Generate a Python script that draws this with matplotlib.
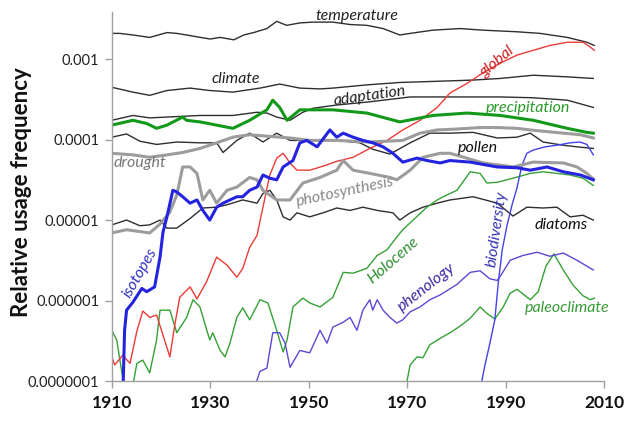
import numpy as np
import matplotlib.pyplot as plt
from matplotlib.ticker import FixedLocator, NullLocator

# values are log10 of relative usage frequency
temperature_years = [1910, 1911.6, 1914.3, 1917.7, 1921.2, 1923.2, 1925.2, 1928, 1930, 1932, 1934.8, 1936.8,
                     1938.8, 1941.5, 1943.5, 1945.5, 1948.2, 1950.8, 1954.9, 1958.4, 1961.8, 1965.1, 1968.5,
                     1970.6, 1975.2, 1980.7, 1985.4, 1992.3, 1997, 2002.5, 2006.5, 2008]
temperature = [-2.68, -2.68, -2.70, -2.73, -2.67, -2.68, -2.70, -2.73, -2.75, -2.73, -2.76, -2.70,
               -2.67, -2.62, -2.53, -2.58, -2.55, -2.54, -2.54, -2.57, -2.58, -2.62, -2.70,
               -2.68, -2.64, -2.62, -2.64, -2.66, -2.68, -2.73, -2.79, -2.83]

climate_years = [1910, 1914.3, 1917.7, 1921.2, 1925.9, 1929.9, 1934.6, 1940.1, 1944.1, 1948.2, 1952.3,
                 1954.9, 1961.8, 1968.5, 1978.7, 1983.4, 1988.9, 1995.6, 2002.5, 2007.8]
climate = [-3.35, -3.41, -3.45, -3.39, -3.36, -3.39, -3.41, -3.36, -3.31, -3.36, -3.37,
           -3.36, -3.32, -3.29, -3.27, -3.26, -3.24, -3.20, -3.22, -3.24]

adaptation_years = [1910, 1914.3, 1917.7, 1921.2, 1927.9, 1934.6, 1939.5, 1941.5, 1943.5, 1946.2, 1948.8,
                    1950.9, 1955.7, 1962.4, 1970.6, 1976.7, 1982.2, 1988.9, 1995.6, 2002.5, 2007.8]
adaptation = [-3.76, -3.70, -3.73, -3.72, -3.70, -3.70, -3.66, -3.67, -3.72, -3.76, -3.66,
              -3.61, -3.57, -3.53, -3.47, -3.47, -3.47, -3.47, -3.48, -3.51, -3.60]

precipitation_years = [1910, 1914.3, 1917.1, 1919.1, 1921.2, 1924.4, 1925.2, 1927.9, 1931.3, 1934.6, 1938,
                       1941.5, 1942.7, 1944.1, 1945.6, 1948.2, 1952.3, 1954.9, 1961.8, 1968.5, 1975.2,
                       1982.2, 1988.9, 1995.6, 2002.5, 2006.5, 2007.8]
precipitation = [-3.82, -3.76, -3.80, -3.86, -3.82, -3.72, -3.76, -3.78, -3.82, -3.86, -3.76,
                 -3.63, -3.51, -3.60, -3.76, -3.63, -3.63, -3.63, -3.67, -3.78, -3.70,
                 -3.67, -3.70, -3.76, -3.86, -3.91, -3.92]

pollen_years = [1910, 1913, 1915.7, 1919.1, 1923.2, 1927.9, 1931.3, 1932.6, 1935.4, 1938, 1940.7, 1943.5,
                1946.2, 1950.2, 1955.7, 1960.4, 1963, 1966.5, 1970.6, 1974.6, 1978.7, 1983.4, 1988.3,
                1992.3, 1995, 1997.6, 2001.7, 2004.5, 2007.8]
pollen = [-3.97, -3.93, -4.02, -4.06, -4.03, -4.04, -4.04, -4.16, -4.01, -3.92, -4.03, -3.92,
          -4.01, -4.01, -4.01, -4.04, -4.12, -4.18, -4.04, -3.92, -3.92, -3.91, -3.98,
          -3.97, -3.92, -4.03, -4.07, -4.09, -4.11]

drought_years = [1910, 1914.3, 1917.7, 1921.2, 1924.4, 1927.9, 1931.3, 1934.6, 1938, 1942.1, 1946.2,
                 1950.2, 1955.7, 1962.4, 1969.1, 1972.6, 1976.1, 1979.7, 1984.8, 1988.3, 1992.3, 1995,
                 2001.7, 2005.2, 2007.8]
drought = [-4.17, -4.19, -4.22, -4.19, -4.16, -4.11, -4.04, -3.97, -3.94, -3.96, -3.98,
           -4.01, -4.01, -4.03, -4.01, -3.92, -3.88, -3.87, -3.85, -3.85, -3.86, -3.88,
           -3.92, -3.94, -3.98]

photosynthesis_years = [1910, 1913, 1917.7, 1919.8, 1921.8, 1923.2, 1924.4, 1925.9, 1927.3, 1928.5,
                        1929.9, 1931.3, 1933.4, 1935.4, 1938, 1939.5, 1940.7, 1943.5, 1946.2, 1948.8,
                        1952.3, 1955.7, 1957, 1959, 1962.4, 1966.5, 1967.9, 1970.6, 1973.2, 1976.7,
                        1978.7, 1985.4, 1991.5, 1995.6, 2001.7, 2004.5, 2006.5, 2007.8]
photosynthesis = [-5.16, -5.12, -5.16, -5.05, -4.90, -4.69, -4.34, -4.34, -4.42, -4.75,
                  -4.63, -4.79, -4.63, -4.59, -4.47, -4.50, -4.63, -4.75, -4.75, -4.54,
                  -4.47, -4.38, -4.26, -4.38, -4.42, -4.47, -4.50, -4.38, -4.22, -4.17,
                  -4.17, -4.29, -4.34, -4.28, -4.29, -4.34, -4.42, -4.49]

diatoms_years = [1910, 1913, 1915.7, 1917.7, 1919.8, 1921.2, 1923.2, 1925.9, 1928.5, 1931.3,
                 1933.4, 1936.6, 1939.5, 1940.7, 1942.1, 1943.5, 1944.8, 1946.2, 1947.6, 1950.2,
                 1952.9, 1955.7, 1958.4, 1961, 1963.9, 1967.1, 1968.5, 1970.6, 1973.2, 1976.7,
                 1978.7, 1983.4, 1988.3, 1991.5, 1994.3, 1997.6, 2000.4, 2003.1, 2005.7, 2007.8]
diatoms = [-5.06, -5.00, -5.07, -5.06, -5.00, -5.10, -5.10, -4.98, -4.85, -4.84,
           -4.81, -4.75, -4.79, -4.67, -4.63, -4.75, -4.96, -5.00, -4.91, -4.96,
           -4.91, -4.85, -4.88, -4.84, -4.88, -4.91, -5.00, -4.91, -4.84, -4.78,
           -4.75, -4.71, -4.79, -4.95, -4.84, -4.85, -4.84, -4.96, -4.94, -5.00]

isotopes_years = [1912.2, 1912.6, 1913, 1914.3, 1916.1, 1917.1, 1918.7, 1919.8, 1920.4, 1921.2,
                  1922.4, 1923.2, 1924.4, 1925.9, 1927.3, 1928.5, 1929.9, 1931.3, 1932.6, 1934,
                  1935.4, 1936.6, 1938, 1939.5, 1940.7, 1942.1, 1943.5, 1944.8, 1946.8, 1948.2,
                  1949.6, 1951.7, 1954.3, 1955.7, 1957, 1959, 1961, 1963, 1965.1, 1967.1,
                  1969.1, 1972, 1974, 1976.7, 1978.7, 1982.8, 1988.3, 1992.3, 1995, 1998.4,
                  2001.7, 2005.2, 2007.8]
isotopes = [-7.30, -6.37, -6.12, -6.02, -5.85, -5.89, -5.83, -5.46, -5.15, -4.96,
            -4.63, -4.65, -4.71, -4.79, -4.75, -4.88, -5.00, -4.84, -4.79, -4.75,
            -4.71, -4.71, -4.63, -4.59, -4.44, -4.48, -4.50, -4.34, -4.26, -4.04,
            -4.01, -4.09, -3.88, -3.97, -3.92, -3.97, -4.01, -4.04, -4.09, -4.17,
            -4.28, -4.23, -4.26, -4.29, -4.26, -4.28, -4.34, -4.35, -4.38, -4.34,
            -4.40, -4.44, -4.50]

global_years = [1910, 1910.6, 1912.2, 1913.7, 1915.1, 1916.3, 1917.7, 1919.1, 1920.4, 1921.8,
                1922.8, 1923.8, 1925.9, 1927.3, 1929.3, 1931.3, 1933.4, 1935.4, 1936.6, 1938,
                1939.5, 1940.7, 1942.1, 1943.5, 1944.8, 1946.2, 1947.6, 1950.2, 1952.9, 1955.7,
                1959, 1962.4, 1965.9, 1969.1, 1972.6, 1976.1, 1978.7, 1982.2, 1985.4, 1988.9,
                1992.3, 1995.6, 1999, 2002.5, 2005.7, 2007.2, 2008]
global_ = [-6.70, -6.80, -6.68, -6.78, -6.38, -6.13, -6.21, -6.18, -6.43, -6.70,
           -6.30, -5.96, -5.83, -5.98, -5.76, -5.46, -5.56, -5.71, -5.60, -5.34,
           -5.19, -4.84, -4.44, -4.23, -4.17, -4.29, -4.38, -4.38, -4.33, -4.27,
           -4.22, -4.11, -4.01, -3.88, -3.76, -3.60, -3.42, -3.30, -3.17, -3.05,
           -2.95, -2.89, -2.83, -2.79, -2.79, -2.85, -2.89]

holocene_years = [1910, 1911, 1912.2, 1913, 1914.3, 1915.1, 1916.3, 1917.7, 1919.1, 1919.8,
                  1921.8, 1923.2, 1925.2, 1926.5, 1927.9, 1929.3, 1929.9, 1930.5, 1932, 1933,
                  1934, 1935.4, 1936.6, 1938, 1940.1, 1941.7, 1943.5, 1944.8, 1945.6, 1946.8,
                  1948.8, 1950.2, 1952.3, 1954.9, 1957, 1959, 1961.8, 1963.9, 1965.9, 1967.9,
                  1969.1, 1971.2, 1974, 1976.1, 1977.3, 1980.1, 1982.8, 1984.8, 1986.2, 1988.3,
                  1991.5, 1995, 1997.6, 2000.4, 2003.1, 2005.7, 2007.8]
holocene = [-6.37, -6.49, -6.95, -7.17, -7.05, -6.78, -6.74, -6.90, -6.49, -6.12,
            -6.12, -6.40, -6.21, -5.99, -6.08, -6.37, -6.49, -6.40, -6.62, -6.70,
            -6.53, -6.21, -6.09, -6.24, -5.99, -6.03, -6.37, -6.64, -6.49, -6.08,
            -5.97, -6.03, -6.08, -5.96, -5.65, -5.66, -5.60, -5.44, -5.37, -5.21,
            -5.12, -5.00, -4.84, -4.75, -4.71, -4.63, -4.40, -4.42, -4.54, -4.53,
            -4.48, -4.42, -4.40, -4.42, -4.44, -4.48, -4.57]

phenology_years = [1939.1, 1939.5, 1940.1, 1941.5, 1942.7, 1944.1, 1945.2, 1946.2, 1948.2, 1950.2,
                   1952.3, 1953.7, 1954.9, 1957, 1958.4, 1959.8, 1961, 1962.4, 1963, 1963.9,
                   1965.1, 1966.5, 1967.9, 1969.1, 1970.6, 1972.6, 1974.6, 1976.7, 1980.1, 1982.8,
                   1984.8, 1986.8, 1988.3, 1989.3, 1990.9, 1993.5, 1996.4, 1999, 2001.7, 2004.5,
                   2007.8]
phenology = [-7.05, -6.99, -6.88, -6.84, -6.40, -6.40, -6.53, -6.83, -6.62, -6.65,
             -6.37, -6.53, -6.33, -6.27, -6.21, -6.37, -6.12, -5.99, -6.12, -5.99,
             -6.12, -6.21, -6.28, -6.24, -6.14, -6.08, -5.99, -5.93, -5.80, -5.65,
             -5.63, -5.73, -5.75, -5.66, -5.50, -5.44, -5.40, -5.45, -5.41, -5.50,
             -5.62]

biodiversity_years = [1985, 1985.8, 1986.8, 1987.8, 1988.5, 1989.3, 1990.3, 1991.3, 1992.3, 1993.3,
                      1994.3, 1995.6, 1998, 2000.4, 2003.1, 2005.1, 2006.5, 2007.8]
biodiversity = [-7.05, -6.80, -6.53, -6.24, -5.78, -5.37, -5.06, -4.81, -4.60, -4.32,
                -4.17, -4.13, -4.09, -4.07, -4.04, -4.03, -4.06, -4.19]

paleoclimate_years = [1969.8, 1970.6, 1972, 1973.2, 1974.6, 1976.7, 1978.7, 1980.7, 1982.8, 1984.8,
                      1986.2, 1987.8, 1989.5, 1990.9, 1992.3, 1995, 1996.6, 1998.2, 1999.8, 2001.7,
                      2003.7, 2005.7, 2007.2, 2008]
paleoclimate = [-7.05, -6.80, -6.70, -6.71, -6.55, -6.47, -6.40, -6.32, -6.22, -6.08,
                -6.16, -6.23, -6.08, -5.91, -5.86, -5.99, -5.89, -5.57, -5.42, -5.62,
                -5.81, -5.94, -5.99, -5.97]

ytick_values = [1e-7, 1e-6, 1e-5, 1e-4, 1e-3]
ytick_labels = ['0.0000001', '0.000001', '0.00001', '0.0001', '0.001']
xtick_values = [1910, 1930, 1950, 1970, 1990, 2010]

plt.rcParams['font.family'] = ['Lato', 'DejaVu Sans']

fig = plt.figure(figsize=(6.28, 4.21), dpi=100)
ax = fig.add_axes([0.178, 0.095, 0.784, 0.893])

black = '#2e2e2e'
gray = '#9c9c9c'
# thin lines first, thick ones on top
series = [
    (temperature_years, temperature, black, 1.0),
    (climate_years, climate, black, 1.0),
    (adaptation_years, adaptation, black, 1.0),
    (pollen_years, pollen, black, 1.0),
    (diatoms_years, diatoms, black, 1.0),
    (holocene_years, holocene, '#35a135', 1.0),
    (paleoclimate_years, paleoclimate, '#35a135', 1.0),
    (phenology_years, phenology, '#5b48d6', 1.0),
    (biodiversity_years, biodiversity, '#4242ea', 1.0),
    (global_years, global_, '#ec3b36', 1.0),
    (drought_years, drought, gray, 2.2),
    (photosynthesis_years, photosynthesis, gray, 2.2),
    (precipitation_years, precipitation, '#13991a', 2.2),
    (isotopes_years, isotopes, '#2323e0', 2.2),
]
for yrs, vals, color, lw in series:
    ax.plot(yrs, 10 ** np.array(vals), color=color, lw=lw, solid_joinstyle='round')

ax.set_yscale('log')
ax.set_xlim(1910, 2010)
ax.set_ylim(1e-7, 4.7e-3)

for side in ['top', 'right']:
    ax.spines[side].set_visible(False)
for side in ['left', 'bottom']:
    ax.spines[side].set_color('#a0a0a0')
    ax.spines[side].set_linewidth(1.0)
ax.spines['left'].set_bounds(1e-7, 3.8e-3)

ax.yaxis.set_major_locator(FixedLocator(ytick_values))
ax.yaxis.set_minor_locator(NullLocator())
ax.set_yticklabels(ytick_labels, fontsize=10.5, color='#222222')
ax.set_xticks(xtick_values)
ax.set_xticklabels([str(v) for v in xtick_values], fontsize=12.5, fontweight='bold', color='#111111')
ax.tick_params(axis='both', direction='out', length=5, width=1, color='#a0a0a0')
ax.tick_params(axis='x', pad=5)
ax.tick_params(axis='y', pad=4)

fig.text(22 / 628, 1 - 192 / 421, 'Relative usage frequency', rotation=90, ha='center', va='center',
         fontsize=16, fontweight='bold', color='#111111')

labels = [
    ('temperature', 1959.8, 3.42e-3, 0, '#222222'),
    ('climate', 1935.2, 5.65e-4, 0, '#222222'),
    ('adaptation', 1962.4, 3.47e-4, 8, '#222222'),
    ('global', 1988.3, 9.2e-4, 40, '#cf2222'),
    ('precipitation', 1994.6, 2.46e-4, 0, '#2a9a2a'),
    ('pollen', 1984.4, 7.8e-5, 0, '#111111'),
    ('drought', 1915.7, 5.1e-5, 0, '#777777'),
    ('photosynthesis', 1957.4, 2.23e-5, 12, '#888888'),
    ('diatoms', 2001.3, 8.7e-6, 0, '#111111'),
    ('isotopes', 1915.7, 2.2e-6, 60, '#3030c0'),
    ('Holocene', 1967.1, 3.18e-6, 41, '#2f8f2f'),
    ('phenology', 1974.0, 1.47e-6, 38, '#3a2aa8'),
    ('biodiversity', 1988.3, 7.7e-6, 82, '#3535b5'),
    ('paleoclimate', 2002.5, 8.1e-7, 0, '#3a9a3a'),
]
for text, x, y, rot, color in labels:
    ax.text(x, y, text, rotation=rot, rotation_mode='anchor', ha='center', va='center',
            fontsize=11.5, style='italic', color=color, clip_on=False)

fig.savefig('out.png', dpi=100)
